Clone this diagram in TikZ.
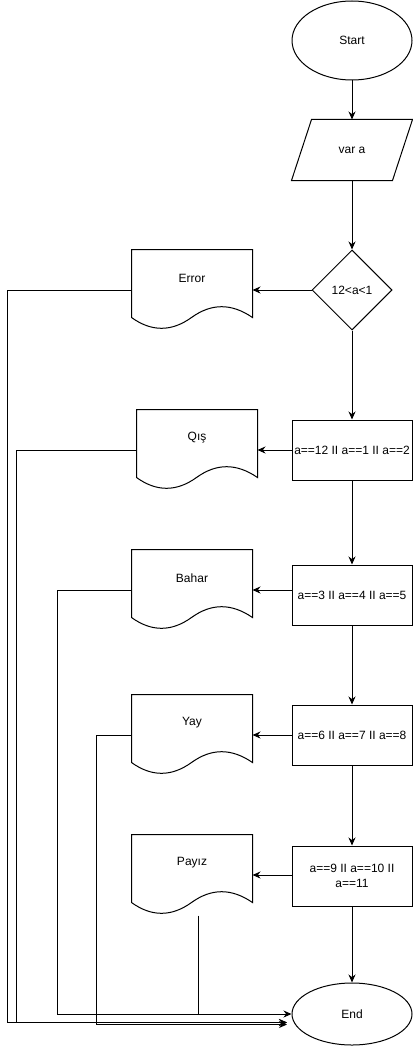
\documentclass[tikz,border=0pt]{standalone}
\usepackage{fontspec}
\setmainfont{Liberation Sans}
\usetikzlibrary{shapes.geometric,arrows.meta,calc,positioning}

\newcommand{\docoutline}[1]{%
    \draw (#1.north west) -- (#1.north east) -- ($(#1.north east)+(0,68)$)
        .. controls ($(#1.north west)+(100,53.6)$) and ($(#1.north west)+(80,53.6)$) .. ($(#1.north west)+(60,68)$)
        .. controls ($(#1.north west)+(40,82.4)$) and ($(#1.north west)+(20,82.4)$) .. ($(#1.north west)+(0,68)$) -- cycle;
}

\begin{document}
\begin{tikzpicture}[
    x=1pt, y=-1pt, line width=1pt,
    font=\fontsize{12pt}{14.5pt}\selectfont,
    every node/.style={inner sep=0pt},
    startend/.style={ellipse, draw, minimum width=120pt},
    decision/.style={diamond, draw, minimum width=80pt, minimum height=80pt},
    cond/.style={rectangle, draw, minimum width=120pt, minimum height=60pt, align=center},
    docbox/.style={minimum width=120pt, minimum height=80pt},
    arr/.style={-{Stealth[length=8pt,width=7pt]}},
]
    \useasboundingbox (0,0) rectangle (412,1046);

    % Main column
    \node[startend, minimum height=79pt] (start) at (352,40.5) {Start};
    \node[minimum width=100pt, minimum height=60pt] (var) at (352,150) {var a};
    \draw ($(var.south west)+(-10,0)$) -- ($(var.north west)+(10,0)$) -- ($(var.north east)+(10,0)$) -- ($(var.south east)+(-10,0)$) -- cycle;
    \node[decision] (range) at (352,290) {12<a<1};
    \node[cond] (c1) at (352,450) {a==12 II a==1 II a==2};
    \node[cond] (c2) at (352,595) {a==3 II a==4 II a==5};
    \node[cond] (c3) at (352,735) {a==6 II a==7 II a==8};
    \node[cond] (c4) at (352,876) {a==9 II a==10 II\\a==11};
    \node[startend, minimum height=62pt] (stop) at (352,1014) {End};

    % Outputs
    \node[docbox, label={[yshift=12pt]center:Error}] (err) at (192,290) {};
    \node[docbox, label={[yshift=12pt]center:Qış}] (qis) at (197,450) {};
    \node[docbox, label={[yshift=12pt]center:Bahar}] (bahar) at (192,590) {};
    \node[docbox, label={[yshift=12pt]center:Yay}] (yay) at (192,735) {};
    \node[docbox, label={[yshift=12pt]center:Payız}] (payiz) at (192,875) {};
    \foreach \d in {err,qis,bahar,yay,payiz} {\docoutline{\d}}

    % Flow
    \draw[arr] (start) -- (var);
    \draw[arr] (var) -- (range);
    \draw[arr] (range) -- (err);
    \draw[arr] (range) -- (c1);
    \draw[arr] (c1) -- (qis);
    \draw[arr] (c1) -- (c2);
    \draw[arr] (bahar.east -| c2.west) -- (bahar);
    \draw[arr] (c2) -- (c3);
    \draw[arr] (c3) -- (yay);
    \draw[arr] (c3) -- (c4);
    \draw[arr] (payiz.east -| c4.west) -- (payiz);
    \draw[arr] (c4) -- (stop);

    % Back to End
    \coordinate (in1) at (287,1022.5);
    \coordinate (in2) at (287,1024.5);
    \draw[arr] (err.west) -- ++(-124,0) |- (in1);
    \draw[arr] (qis.west) -- ++(-120,0) |- (in1);
    \draw[arr] (bahar.west) -- ++(-74,0) |- (stop.west);
    \draw[arr] (yay.west) -- ++(-35,0) |- (in2);
    \draw ([xshift=6pt]payiz.south) -- ([xshift=6pt]payiz.south |- stop.west);
\end{tikzpicture}
\end{document}
